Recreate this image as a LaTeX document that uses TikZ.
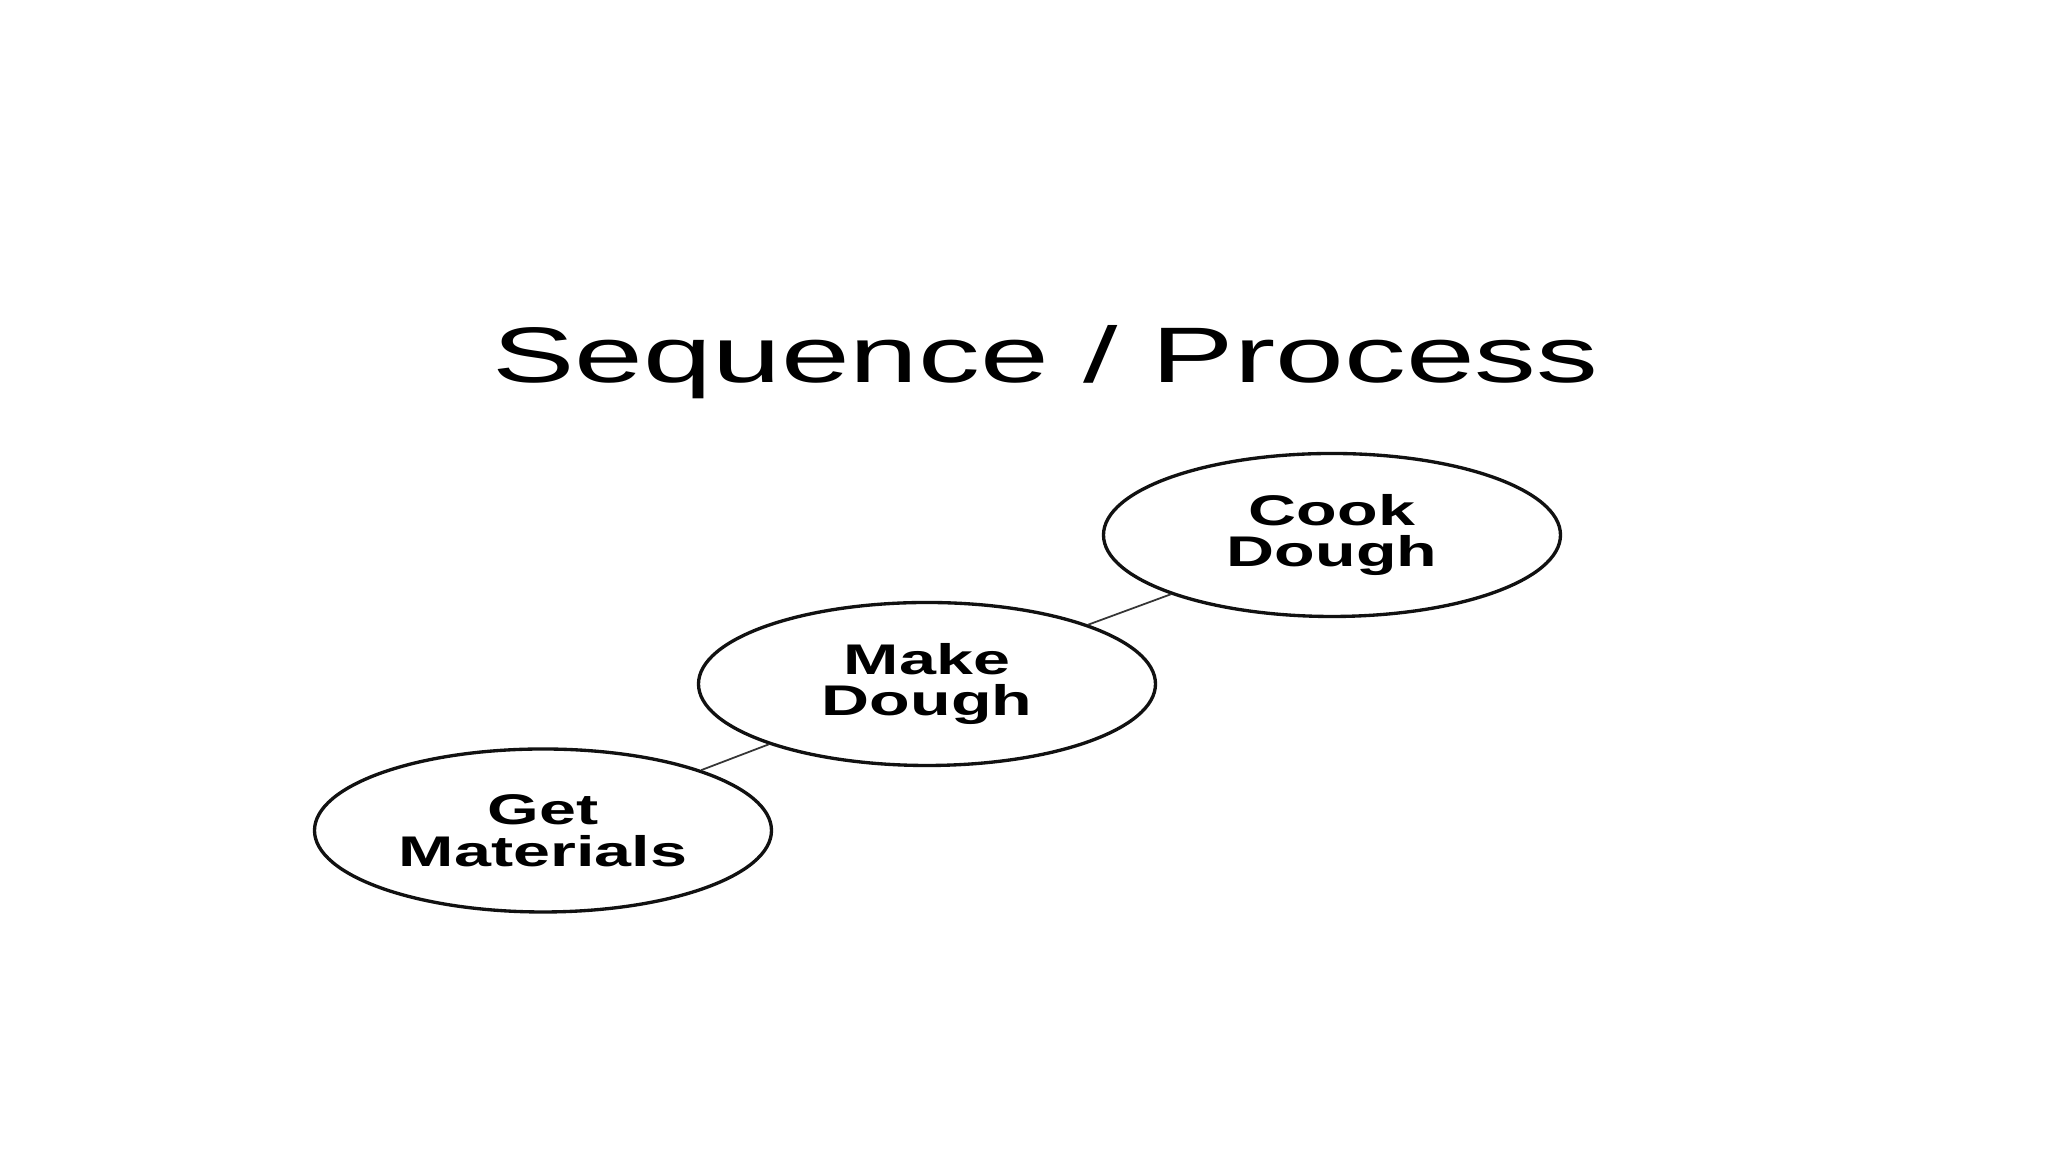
\documentclass[tikz,border=0pt]{standalone}
\usepackage{fontspec}
\usetikzlibrary{shapes.geometric}
\newfontfamily\slidefont[FakeStretch=1.55]{Liberation Sans}
\newfontfamily\headfont[FakeStretch=1.57]{Liberation Sans}
\definecolor{ink}{HTML}{111111}

\begin{document}
\begin{tikzpicture}[x=1cm,y=1cm,
  stage/.style={ellipse, draw=ink, line width=0.95pt, minimum width=4.57cm, minimum height=1.63cm, inner sep=0pt, align=center, font=\slidefont\bfseries\fontsize{12.2}{11.9}\selectfont},
  link/.style={draw=ink!85, line width=0.5pt}]
\fill[white] (0,0) rectangle (20.48,11.52);
\useasboundingbox (0,0) rectangle (20.48,11.52);
\node[anchor=base, inner sep=0pt, font=\headfont\fontsize{22.4}{26}\selectfont] (title) at (10.455,7.69) {Sequence / Process};
\node[stage] (get) at (5.43,3.215) {Get\\Materials};
\node[stage] (make) at (9.27,4.68) {Make\\Dough};
\node[stage] (cook) at (13.32,6.17) {Cook\\Dough};
\draw[link] (get) -- (make);
\draw[link] (make) -- (cook);
\end{tikzpicture}
\end{document}
